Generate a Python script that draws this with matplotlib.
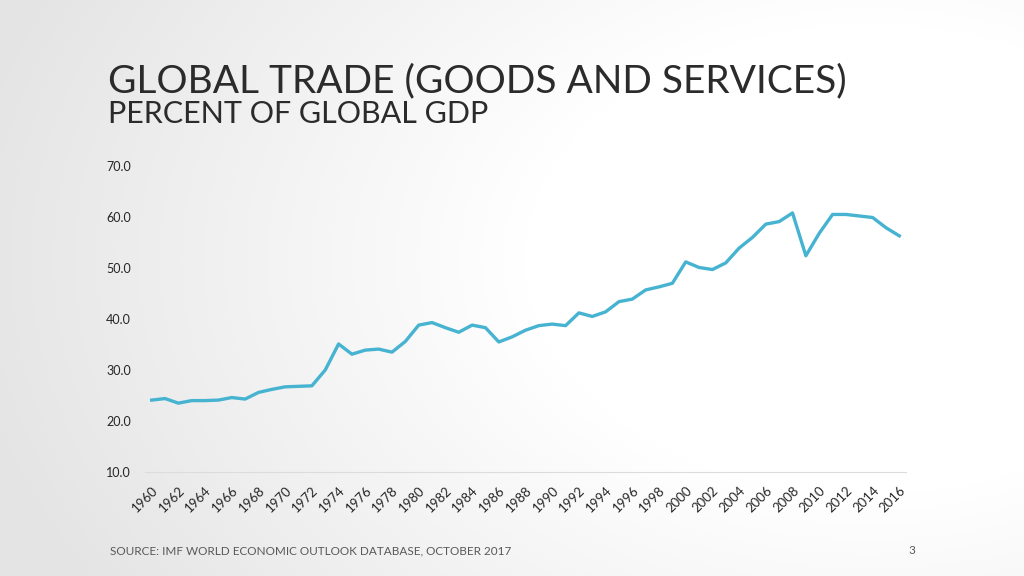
import matplotlib
matplotlib.use("Agg")
import matplotlib.pyplot as plt
import numpy as np

years = list(range(1960, 2017))
trade_pct_gdp = [24.1, 24.4, 23.5, 24.0, 24.0, 24.1, 24.6, 24.3, 25.6, 26.2,
                 26.7, 26.8, 26.9, 30.0, 35.1, 33.1, 33.9, 34.1, 33.5, 35.6,
                 38.8, 39.3, 38.3, 37.4, 38.8, 38.3, 35.5, 36.5, 37.8, 38.7,
                 39.0, 38.7, 41.2, 40.5, 41.4, 43.4, 43.9, 45.7, 46.3, 47.0,
                 51.2, 50.1, 49.7, 51.0, 53.9, 56.0, 58.6, 59.1, 60.8, 52.4,
                 56.8, 60.5, 60.5, 60.2, 59.9, 57.9, 56.3]
y_ticks = [10, 20, 30, 40, 50, 60, 70]

title = "GLOBAL TRADE (GOODS AND SERVICES)"
subtitle = "PERCENT OF GLOBAL GDP"
source = "SOURCE: IMF WORLD ECONOMIC OUTLOOK DATABASE, OCTOBER 2017"
page = "3"

plt.rcParams['font.family'] = ['Lato', 'DejaVu Sans']

fig = plt.figure(figsize=(10.24, 5.76), dpi=100)

# background gradient
bg = fig.add_axes([0, 0, 1, 1], zorder=-10)
bg.axis('off')
xx = np.linspace(0, 1, 256)
yy = np.linspace(0, 1, 144)
X, Y = np.meshgrid(xx, yy)
d = np.clip(1 - np.sqrt(((X - 0.85) / 0.9) ** 2 + ((Y - 0.45) / 1.1) ** 2), 0, 1)
val = 0.895 + 0.105 * np.clip(d * 1.6, 0, 1)
img = np.dstack([val, val, val])
bg.imshow(img, extent=[0, 1, 0, 1], aspect='auto', origin='upper')
bg.set_xlim(0, 1)
bg.set_ylim(0, 1)

ax = fig.add_axes([145 / 1024, 1 - 472 / 576, (906 - 145) / 1024, (472 - 166) / 576])
ax.patch.set_alpha(0)
x = np.arange(len(years))
ax.plot(x, trade_pct_gdp, color='#46b3d1', lw=2.4, solid_joinstyle='round')
ax.set_xlim(-0.5, len(years) - 0.5)
ax.set_ylim(10, 70)
ax.set_yticks(y_ticks)
ax.set_yticklabels([f"{v:.1f}" for v in y_ticks], fontsize=9, color='#262626')
ax.set_xticks(x[::2])
ax.set_xticklabels([str(y) for y in years[::2]], rotation=45, ha='right',
                   rotation_mode='anchor', fontsize=9.5, color='#262626')
for s in ['top', 'right', 'left']:
    ax.spines[s].set_visible(False)
ax.spines['bottom'].set_color('#dcdcdc')
ax.spines['bottom'].set_linewidth(0.8)
ax.tick_params(axis='both', length=0)
ax.tick_params(axis='y', pad=10)
ax.tick_params(axis='x', pad=9)

fig.text(108 / 1024, 1 - 92 / 576, title, fontsize=28, color='#2b2b2b',
         fontweight='normal', ha='left', va='baseline')
fig.text(108 / 1024, 1 - 123 / 576, subtitle, fontsize=22, color='#2b2b2b',
         fontweight='normal', ha='left', va='baseline')
fig.text(110 / 1024, 1 - 554 / 576, source, fontsize=8.5, color='#595959',
         ha='left', va='baseline')
fig.text(915 / 1024, 1 - 554 / 576, page, fontsize=8.5, color='#595959',
         ha='right', va='baseline')

fig.savefig("out.png", dpi=100)
